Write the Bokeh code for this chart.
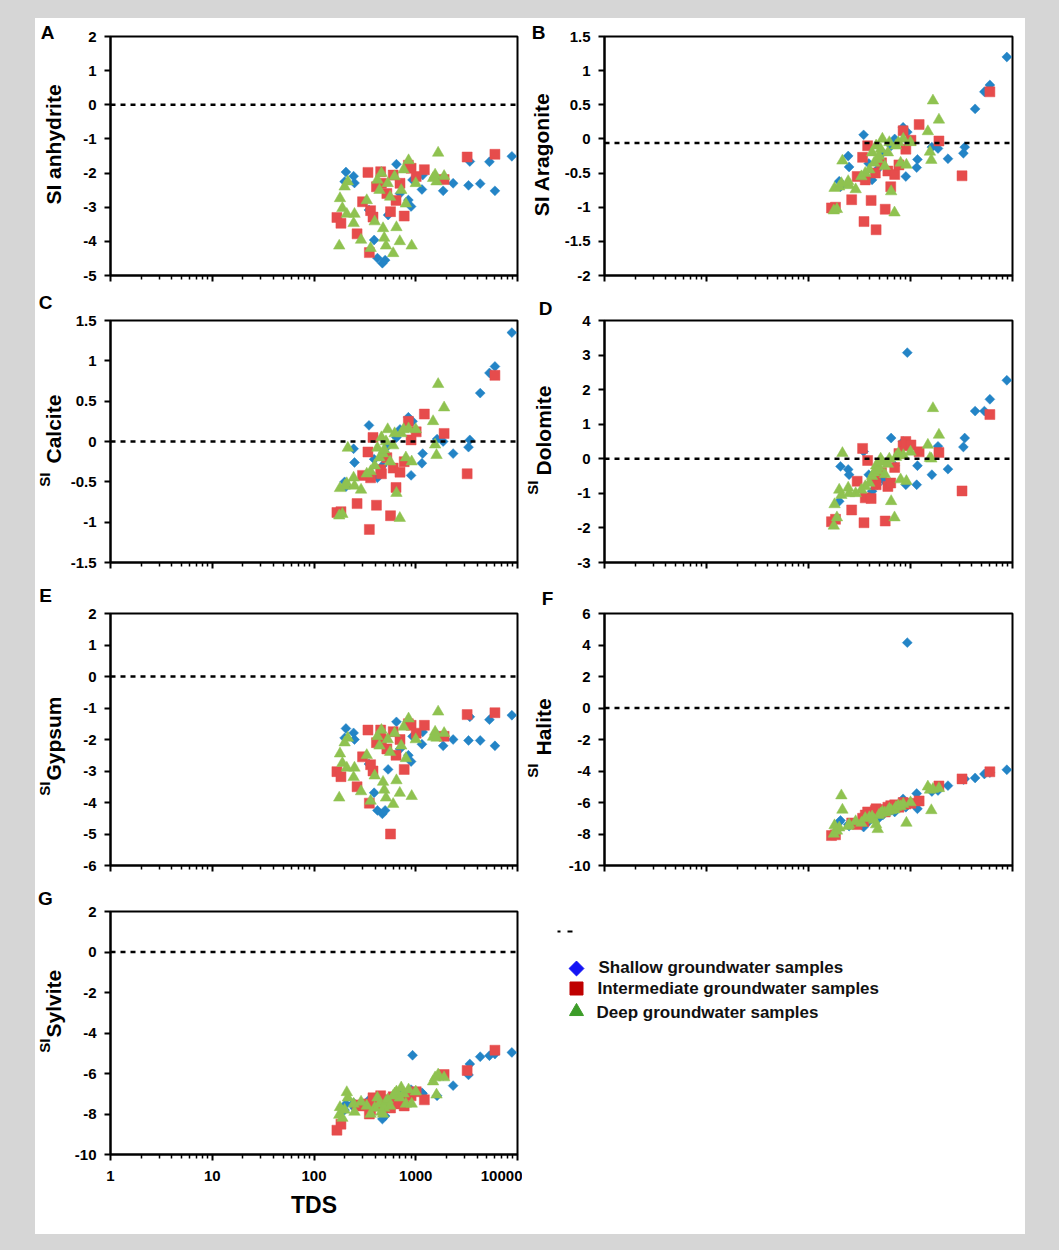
import math
from bokeh.plotting import figure
from bokeh.models import Range1d, Span, FixedTicker, Spacer
from bokeh.layouts import row, column
from bokeh.embed import file_html
from bokeh.resources import INLINE
from bokeh.core.properties import value

FONT = "Liberation Sans"

# ---------------- data ----------------
series_names = ["Shallow groundwater samples", "Intermediate groundwater samples", "Deep groundwater samples"]

shallow_tds = [206, 245, 250, 200, 347, 390, 420, 470, 500, 535, 646, 700, 846, 900, 930, 1150, 1170, 1620, 1860, 2330,
               3300, 3400, 4300, 5300, 6000, 8800]
shallow_anhydrite = [-1.97, -2.09, -2.29, -2.25, -3.08, -3.96, -4.49, -4.64, -4.55, -3.23, -1.74, -2.60, -2.79, -2.98, -2.20,
                     -2.48, -2.06, -2.15, -2.52, -2.30, -2.36, -1.66, -2.31, -1.67, -2.52, -1.51]
shallow_aragonite = [-0.70, -0.25, -0.41, -0.62, 0.06, -0.36, -0.60, -0.45, -0.30, -0.20, -0.10, 0.00, 0.17, -0.55, 0.10,
                     -0.42, -0.30, -0.12, -0.14, -0.29, -0.21, -0.12, 0.44, 0.69, 0.79, 1.20]
shallow_calcite = [-0.56, -0.09, -0.26, -0.50, 0.20, -0.22, -0.45, -0.30, -0.15, -0.05, 0.05, 0.15, 0.30, -0.42, 0.25,
                   -0.27, -0.15, 0.03, 0.00, -0.15, -0.07, 0.02, 0.60, 0.85, 0.93, 1.35]
shallow_dolomite = [-0.22, -0.31, -0.46, -1.23, 0.21, -0.46, -0.94, -0.75, -0.36, -0.60, 0.60, -0.20, 0.50, -0.75, 3.07,
                    -0.75, -0.20, -0.46, 0.36, -0.30, 0.34, 0.60, 1.38, 1.38, 1.72, 2.27]
shallow_gypsum = [-1.65, -1.79, -2.00, -1.95, -2.78, -3.69, -4.25, -4.36, -4.25, -2.95, -1.44, -2.30, -2.50, -2.70, -1.90,
                  -2.15, -1.76, -1.85, -2.20, -2.00, -2.03, -1.28, -2.03, -1.37, -2.20, -1.23]
shallow_halite = [-7.14, -7.40, -7.50, -7.25, -7.56, -7.20, -7.00, -7.10, -6.90, -6.80, -6.50, -6.60, -5.77, -6.30, 4.15,
                  -5.43, -6.40, -5.30, -5.24, -4.93, -4.55, -4.50, -4.44, -4.19, -4.10, -3.92]
shallow_sylvite = [-7.50, -7.45, -7.70, -7.80, -7.30, -7.35, -7.55, -8.25, -8.10, -7.60, -7.20, -7.00, -6.90, -6.80, -5.10,
                   -6.95, -7.00, -7.10, -6.10, -6.60, -6.07, -5.53, -5.17, -5.12, -5.04, -4.96]

inter_tds = [168, 184, 265, 339, 350, 300, 360, 380, 411, 452, 460, 520, 565, 600, 640, 700, 770, 846, 900, 1010,
             1215, 1900, 3200, 6000]
inter_anhydrite = [-3.30, -3.47, -3.78, -1.98, -4.33, -2.84, -3.10, -3.29, -2.40, -1.96, -2.30, -2.60, -3.13, -2.06, -2.80,
                   -2.30, -3.26, -1.77, -1.86, -2.10, -1.90, -2.19, -1.53, -1.45]
inter_aragonite = [-1.01, -1.00, -0.89, -0.27, -1.21, -0.55, -0.60, -0.10, -0.90, -0.50, -1.33, -0.35, -1.03, -0.47, -0.70,
                   -0.52, -0.38, 0.12, -0.15, -0.02, 0.21, -0.03, -0.54, 0.69]
inter_calcite = [-0.88, -0.87, -0.77, -0.13, -1.09, -0.42, -0.45, 0.05, -0.79, -0.35, -0.40, -0.20, -0.92, -0.33, -0.57,
                 -0.38, -0.25, 0.25, 0.02, 0.12, 0.34, 0.10, -0.40, 0.82]
inter_dolomite = [-1.82, -1.75, -1.48, 0.30, -1.85, -0.65, -1.13, -0.05, -1.15, -0.60, -0.75, -0.40, -1.80, -0.80, -0.70,
                  -0.25, 0.15, 0.38, 0.50, 0.40, 0.20, 0.18, -0.93, 1.28]
inter_gypsum = [-3.02, -3.18, -3.50, -1.70, -4.02, -2.55, -2.80, -3.00, -2.10, -1.70, -2.00, -2.30, -5.00, -1.75, -2.50,
                -2.00, -2.95, -1.50, -1.55, -1.80, -1.55, -1.90, -1.21, -1.15]
inter_halite = [-8.10, -8.05, -7.30, -7.00, -7.20, -7.40, -6.80, -6.60, -6.70, -6.50, -6.40, -6.45, -6.60, -6.30, -6.20,
                -6.15, -6.30, -6.00, -6.10, -6.05, -5.90, -4.95, -4.50, -4.05]
inter_sylvite = [-8.80, -8.50, -7.55, -7.50, -8.00, -7.60, -7.80, -7.20, -7.60, -7.10, -7.40, -7.30, -7.70, -7.15, -7.50,
                 -7.25, -7.60, -7.00, -7.10, -6.90, -7.30, -6.05, -5.85, -4.85]

deep_tds = [177, 180, 190, 200, 210, 215, 250, 245, 290, 330, 360, 395, 420, 440, 460, 477, 490, 510, 530, 560,
            600, 620, 646, 697, 720, 760, 800, 850, 912, 1000, 1480, 1550, 1600, 1660, 1900]
deep_anhydrite = [-4.13, -2.74, -3.03, -2.40, -3.20, -2.25, -3.20, -3.47, -3.96, -2.80, -4.20, -3.42, -2.20, -2.50, -2.00,
                  -3.62, -3.90, -4.13, -2.30, -2.70, -4.35, -2.10, -3.59, -4.00, -2.50, -1.90, -2.90, -1.63, -4.13, -2.30,
                  -2.15, -2.05, -2.25, -1.41, -2.09]
deep_aragonite = [-1.05, -0.72, -1.03, -0.70, -0.65, -0.32, -0.68, -0.62, -0.74, -0.55, -0.50, -0.45, -0.20, -0.35, -0.10,
                  -0.30, -0.25, -0.15, 0.00, -0.40, -0.20, -0.05, -0.77, -1.08, -0.10, -0.05, -0.35, 0.00, -0.38, -0.05,
                  0.11, -0.19, -0.31, 0.56, 0.28]
deep_calcite = [-0.92, -0.58, -0.90, -0.55, -0.52, -0.08, -0.55, -0.45, -0.60, -0.40, -0.37, -0.30, -0.08, -0.20, 0.05,
                -0.15, -0.10, 0.00, 0.15, -0.25, -0.05, 0.10, -0.64, -0.95, 0.10, 0.15, -0.20, 0.16, -0.25, 0.15,
                0.25, -0.04, -0.17, 0.71, 0.42]
deep_dolomite = [-1.94, -1.32, -1.70, -0.90, -1.05, 0.16, -1.00, -0.84, -1.00, -0.90, -0.80, -0.70, -0.50, -0.40, -0.20,
                 -0.35, -0.25, 0.00, -0.10, -0.45, -0.15, 0.00, -1.23, -1.70, 0.05, 0.15, -0.60, 0.10, -0.65, 0.20,
                 0.40, 0.02, 0.00, 1.46, 0.69]
deep_gypsum = [-3.85, -2.45, -2.75, -2.10, -2.90, -1.95, -2.90, -3.20, -3.65, -2.50, -3.95, -3.15, -1.90, -2.20, -1.70,
               -3.35, -3.60, -3.85, -2.00, -2.40, -4.05, -1.80, -3.30, -3.70, -2.20, -1.60, -2.60, -1.34, -3.80, -2.00,
               -1.92, -1.76, -1.95, -1.12, -1.80]
deep_halite = [-7.99, -7.46, -7.80, -7.60, -5.56, -6.47, -7.40, -7.50, -7.20, -7.30, -7.00, -6.95, -6.90, -7.10, -7.40,
               -7.70, -6.80, -6.70, -6.60, -6.65, -6.55, -6.40, -6.50, -6.45, -6.30, -6.20, -6.25, -6.10, -7.30, -6.00,
               -5.00, -5.20, -6.50, -5.15, -5.10]
deep_sylvite = [-8.05, -7.67, -8.20, -7.80, -6.93, -7.20, -7.90, -7.50, -7.40, -7.60, -8.00, -7.70, -7.20, -7.50, -7.90,
                -8.00, -7.70, -7.40, -7.30, -7.60, -7.10, -7.00, -6.90, -7.20, -6.70, -7.00, -7.50, -6.80, -7.50, -6.90,
                -6.40, -6.20, -7.05, -6.06, -6.20]

x_ticks = [1, 10, 100, 1000, 10000]
x_tick_labels = ["1", "10", "100", "1000", "10000"]
x_minor_ticks = [m * 10 ** k for k in range(4) for m in range(2, 10)]

y_ticks_anhydrite = [-5, -4, -3, -2, -1, 0, 1, 2]
y_ticks_aragonite = [-2, -1.5, -1, -0.5, 0, 0.5, 1, 1.5]
y_ticks_calcite = [-1.5, -1, -0.5, 0, 0.5, 1, 1.5]
y_ticks_dolomite = [-3, -2, -1, 0, 1, 2, 3, 4]
y_ticks_gypsum = [-6, -5, -4, -3, -2, -1, 0, 1, 2]
y_ticks_halite = [-10, -8, -6, -4, -2, 0, 2, 4, 6]
y_ticks_sylvite = [-10, -8, -6, -4, -2, 0, 2]

# equilibrium reference level drawn as a dashed line in each panel
ref_levels = {"A": 0.0, "B": -0.06, "C": 0.0, "D": 0.0, "E": 0.0, "F": 0.0, "G": 0.0}

# ---------------- styling / layout ----------------
BLUE = "#2384c6"
RED = "#e64c4c"
GREEN = "#8fc250"
GRAY = {"background-color": "#d6d6d6"}

LEFT_W, TOP_H, BOTTOM_H = 35, 18, 16
COL_W = [487, 503]                                   # column widths (35 -> 522 -> 1025)
ROW_H = [274, 292, 304, 346]
ROW_TB = [(18, 17), (28, 22), (29, 23), (23, 80)]    # (top, bottom) border per row
STRIP_W = [31, 34]                                   # y-title strip width per column
PANEL_LR = [(44, 5), (48, 13)]                       # (left, right) border per column
Y_STANDOFF = [8, 8]

panels = [
    dict(key="A", ticks=y_ticks_anhydrite, rc=(0, 0), vals=(shallow_anhydrite, inter_anhydrite, deep_anhydrite)),
    dict(key="B", ticks=y_ticks_aragonite, rc=(0, 1), vals=(shallow_aragonite, inter_aragonite, deep_aragonite)),
    dict(key="C", ticks=y_ticks_calcite, rc=(1, 0), vals=(shallow_calcite, inter_calcite, deep_calcite)),
    dict(key="D", ticks=y_ticks_dolomite, rc=(1, 1), vals=(shallow_dolomite, inter_dolomite, deep_dolomite)),
    dict(key="E", ticks=y_ticks_gypsum, rc=(2, 0), vals=(shallow_gypsum, inter_gypsum, deep_gypsum)),
    dict(key="F", ticks=y_ticks_halite, rc=(2, 1), vals=(shallow_halite, inter_halite, deep_halite)),
    dict(key="G", ticks=y_ticks_sylvite, rc=(3, 0), vals=(shallow_sylvite, inter_sylvite, deep_sylvite)),
]

# y-axis titles in pixel coordinates of each column's title strip: (text, x, y, font size, align)
strip_texts = [
    [("SI anhydrite", 18, 126, "21px", "center"),
     ("Calcite", 18, 445, "21px", "left"), ("SI", 9, 454, "15px", "right"),
     ("Gypsum", 18, 762, "21px", "left"), ("SI", 9, 763, "15px", "right"),
     ("Sylvite", 18, 1019, "21px", "left"), ("SI", 9, 1020, "15px", "right")],
    [("SI  Aragonite", 19, 133, "21px", "center"),
     ("Dolomite", 21, 457, "21px", "left"), ("SI", 10, 462, "15px", "right"),
     ("Halite", 21, 737, "21px", "left"), ("SI", 10, 745, "15px", "right")],
]
strip_letters = [
    [("A", 12, 14), ("C", 10, 284), ("E", 10, 577), ("G", 10, 880)],
    [("B", 16, 14), ("D", 23, 290), ("F", 25, 580)],
]


def pixel_figure(w, h):
    f = figure(width=w, height=h, x_range=Range1d(0, w), y_range=Range1d(h, 0),
               output_backend="svg", toolbar_location=None, x_axis_location=None, y_axis_location=None,
               min_border=0)
    f.grid.visible = False
    f.outline_line_color = None
    f.background_fill_color = "white"
    f.border_fill_color = "white"
    return f


def make_strip(c):
    s = pixel_figure(STRIP_W[c], sum(ROW_H))
    for txt, x, y, size, align in strip_texts[c]:
        s.text(x=[x], y=[y], text=[txt], angle=math.pi / 2, text_font=value(FONT), text_font_style="bold",
               text_font_size=size, text_align=align, text_baseline="middle", text_color="black")
    for txt, x, y in strip_letters[c]:
        s.text(x=[x], y=[y], text=[txt], text_font=value(FONT), text_font_style="bold",
               text_font_size="19px", text_align="center", text_baseline="middle", text_color="black")
    return s


def make_panel(cfg):
    r, c = cfg["rc"]
    top, bottom = ROW_TB[r]
    left, right = PANEL_LR[c]
    ticks = cfg["ticks"]
    p = figure(width=COL_W[c] - STRIP_W[c], height=ROW_H[r], x_axis_type="log", x_range=Range1d(1, 10000),
               y_range=Range1d(min(ticks), max(ticks)), output_backend="svg", toolbar_location=None,
               min_border_left=left, min_border_right=right, min_border_top=top, min_border_bottom=bottom)
    p.xgrid.visible = False
    p.ygrid.visible = False
    p.background_fill_color = "white"
    p.border_fill_color = "white"
    p.outline_line_color = "black"
    p.outline_line_width = 2
    p.outline_line_alpha = 1.0
    for ax in (p.xaxis[0], p.yaxis[0]):
        ax.axis_line_width = 2
        ax.axis_line_color = "black"
        ax.major_tick_line_width = 2
        ax.major_tick_line_color = "black"
        ax.major_tick_in = 0
        ax.major_tick_out = 6
        ax.major_label_text_font = FONT
        ax.major_label_text_font_style = "bold"
        ax.major_label_text_font_size = "15px"
        ax.major_label_text_color = "black"
    xa = p.xaxis[0]
    xa.ticker = FixedTicker(ticks=x_ticks, minor_ticks=x_minor_ticks)
    xa.minor_tick_in = 0
    xa.minor_tick_out = 4
    xa.minor_tick_line_width = 1.5
    xa.minor_tick_line_color = "black"
    if cfg["key"] == "G":
        xa.major_label_overrides = {t_: s_ for t_, s_ in zip(x_ticks, x_tick_labels)}
        xa.major_label_standoff = 10
        xa.axis_label = "TDS"
        xa.axis_label_text_font = FONT
        xa.axis_label_text_font_style = "bold"
        xa.axis_label_text_font_size = "23px"
        xa.axis_label_text_color = "black"
        xa.axis_label_standoff = 8
    else:
        # only the bottom panel shows the x tick labels
        xa.major_label_text_color = None
        xa.major_label_text_font_size = "1px"
        xa.major_label_standoff = 0
    ya = p.yaxis[0]
    ya.ticker = FixedTicker(ticks=ticks)
    ya.minor_tick_line_color = None
    ya.major_label_standoff = Y_STANDOFF[c]
    ya.major_label_overrides = {t_: f"{t_:g}" for t_ in ticks}

    p.add_layout(Span(location=ref_levels[cfg["key"]], dimension="width", line_color="black",
                      line_width=2.5, line_dash="5 5"))

    s_vals, i_vals, d_vals = cfg["vals"]
    p.scatter(shallow_tds, s_vals, marker="square", angle=math.pi / 4, size=7,
              fill_color=BLUE, line_color=BLUE, line_width=0.5)
    p.scatter(inter_tds, i_vals, marker="square", size=10,
              fill_color=RED, line_color=RED, line_width=0.5)
    p.scatter(deep_tds, d_vals, marker="triangle", size=11.5,
              fill_color=GREEN, line_color=GREEN, line_width=0.5)
    return p


figs = {cfg["key"]: make_panel(cfg) for cfg in panels}

# legend cell (pixel coordinates inside the cell)
LW, LH = COL_W[1] - STRIP_W[1], ROW_H[3]
leg = pixel_figure(LW, LH)
leg.segment(x0=[1, 11], y0=[43, 43], x1=[4, 16], y1=[43, 43], line_color="black", line_width=2)
leg_colors = ["#1414f5", "#bf0000", "#3c9c28"]
leg.scatter([20], [80], marker="square", angle=math.pi / 4, size=10.5, color=leg_colors[0])
leg.scatter([20], [100], marker="square", size=13, color=leg_colors[1])
leg.scatter([20], [123], marker="triangle", size=14, color=leg_colors[2])
leg.text(x=[42, 41, 40], y=[79, 100, 124], text=series_names, text_font=value(FONT),
         text_font_style="bold", text_font_size="17px", text_baseline="middle", text_align="left",
         text_color="#111111")

strip0 = make_strip(0)
strip1 = make_strip(1)

col0 = column(figs["A"], figs["C"], figs["E"], figs["G"])
col1 = column(column(figs["B"], figs["D"], figs["F"]), leg)
body = row(strip0, col0, strip1, col1)

total_w = sum(COL_W)
total_h = TOP_H + sum(ROW_H) + BOTTOM_H
layout = row(Spacer(width=LEFT_W, height=total_h, styles=GRAY),
             column(Spacer(width=total_w, height=TOP_H, styles=GRAY), body,
                    Spacer(width=total_w, height=BOTTOM_H, styles=GRAY)),
             Spacer(width=34, height=total_h, styles=GRAY))

open("out.html", "w").write(file_html(layout, INLINE))
